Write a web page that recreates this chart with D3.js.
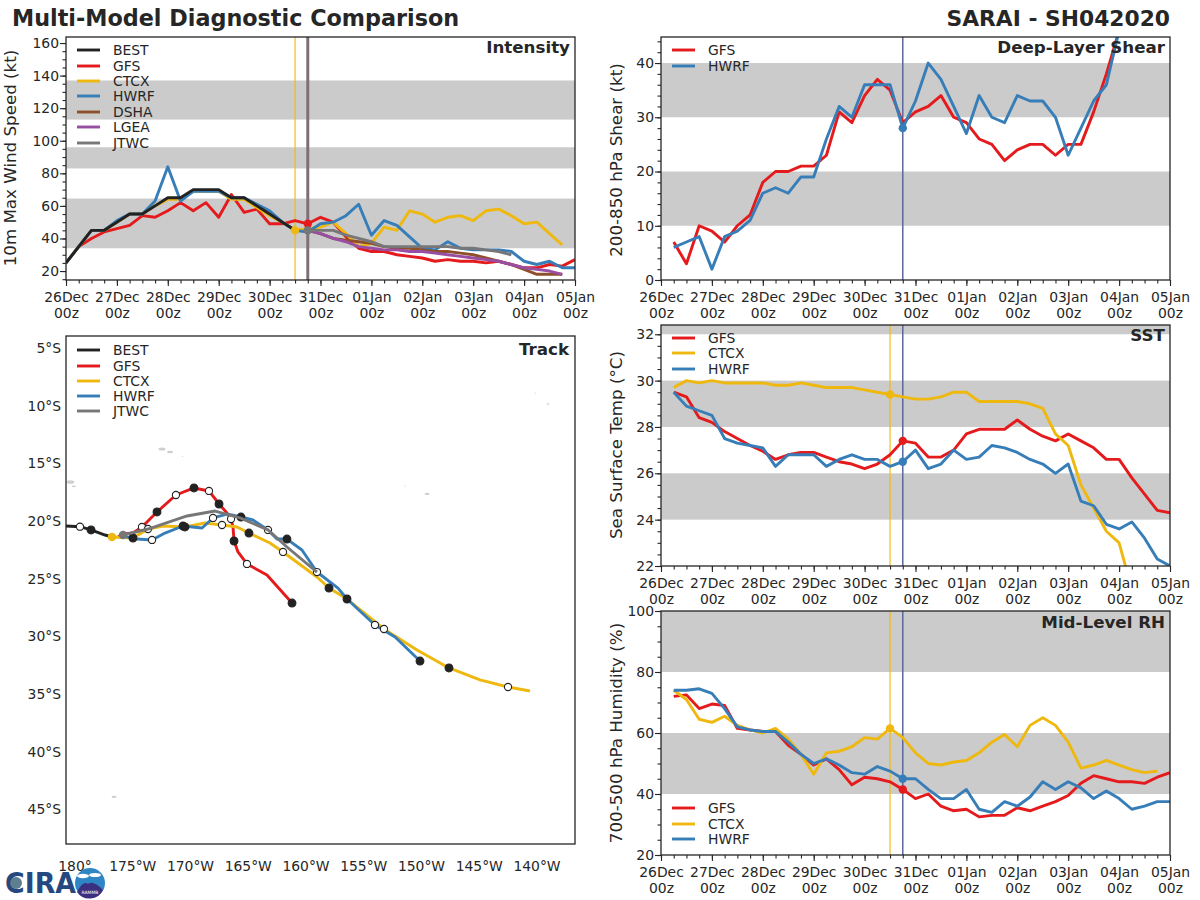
<!DOCTYPE html>
<html>
<head>
<meta charset="utf-8">
<script src="https://d3js.org/d3.v7.min.js"></script>
<style>
body { margin: 0; background: #fff; }
text { font-family: "DejaVu Sans", sans-serif; fill: #262626; }
</style>
</head>
<body>
<div id="chart"></div>
<script>
// 6-hourly steps from 26Dec 00z, every 4th step gets a label
var dayLabels = ["26Dec", "27Dec", "28Dec", "29Dec", "30Dec", "31Dec", "01Jan", "02Jan", "03Jan", "04Jan", "05Jan"];
var hourLabel = "00z";

var intensityBest = [25,35,45,45,50,55,55,60,65,65,70,70,70,65,65,60,55,50,45];
var intensityGfs = [25,35,40,44,46,48,54,53,57,62,57,62,53,67,56,58,49,49,51,49,53,50,41,34,32,32,30,29,28,26,27,26,26,25,26,24,22,22,24,23,27];
var intensityCtcx = [25,35,45,45,50,55,55,60,64,64,69,69,69,64,64,59,54,50,45,46,47,50,43,35,37,47,45,57,55,50,53,54,51,57,58,54,49,50,43,36];
var intensityHwrf = [25,35,45,45,51,55,55,63,84,63,69,69,69,65,65,61,57,50,45,44,49,50,54,61,42,51,48,41,34,33,38,34,33,33,33,32,26,24,26,22,22];
var intensityDsha = [45,43,40,39,38,37,35,34,34,33,32,32,31,30,28,26,24,21,18,18,18];
var intensityLgea = [45,43,40,38,35,34,33,33,32,32,31,30,29,28,27,26,24,22,21,20,18];
var intensityJtwc = [45,45,45,42,40,38,35,35,35,35,35,35,34,34,33,32,30];

var shearGfs = [7,3,10,9,7,10,12,18,20,20,21,21,23,31,29,34,37,35,29,31,32,34,30,29,26,25,22,24,25,25,23,25,25,31,38,46];
var shearHwrf = [6,7,8,2,8,9,11,16,17,16,19,19,26,32,30,36,36,36,28,33,40,37,32,27,34,30,29,34,33,33,30,23,28,33,36,46];

var sstGfs = [29.5,29.3,28.4,28.2,27.8,27.5,27.2,26.95,26.6,26.8,26.9,26.9,26.7,26.5,26.4,26.2,26.4,26.8,27.4,27.3,26.7,26.7,27.0,27.7,27.9,27.9,27.9,28.3,27.9,27.6,27.4,27.7,27.4,27.1,26.6,26.6,25.8,25.1,24.4,24.3];
var sstCtcx = [29.7,30.0,29.9,30.0,29.9,29.9,29.9,29.9,29.8,29.8,29.9,29.8,29.7,29.7,29.7,29.6,29.5,29.4,29.3,29.2,29.2,29.3,29.5,29.5,29.1,29.1,29.1,29.1,29.0,28.8,27.7,27.2,25.5,24.5,23.5,23.0,21.0];
var sstHwrf = [29.5,28.9,28.7,28.5,27.5,27.3,27.2,27.1,26.3,26.8,26.8,26.8,26.3,26.6,26.8,26.6,26.6,26.3,26.5,27.0,26.2,26.4,27.0,26.6,26.7,27.2,27.1,26.9,26.6,26.4,26.0,26.4,24.8,24.6,23.8,23.6,23.9,23.2,22.3,22.0];

var rhGfs = [72,72.5,68,69.5,69,61.5,61,60.5,60.5,56,53,49.5,51.5,48,43,45.5,45,44,41.5,38.5,40,36,34.5,35,32.5,33,33,35.5,34.5,36,37.5,39.5,43.5,46,45,44,44,43.5,45.5,47];
var rhCtcx = [74,71,64.5,63.5,65.5,62.5,61,60,61.5,58,53,46.5,53.5,54,55.5,58.5,58,61.5,58.5,53.5,50,49.5,50.5,51,53.5,57,59.5,55.5,62.5,65,62.5,57,48.5,49.5,51,49.5,48,47,47.5];
var rhHwrf = [74,74,74.5,73,68,62,61,60.5,60.5,57,53,50,51.5,49.5,47,46.5,49,47.5,45,45,41.5,38.5,38.5,41.5,35,34,37.5,36,39,44,41.5,44,42,38.5,41,38.5,35,36,37.5,37.5];

// track points: deg W, deg S, marker (0 none, 1 filled, 2 open)
var trackBest = [[180.78,20.44,0],[179.57,20.5,2],[178.61,20.78,1],[177.4,21.22,0],[176.8,21.39,0]];
var trackGfs = [[176.28,21.39,0],[175.84,21.13,0],[174.98,21.05,0],[174.2,20.52,2],[172.9,19.22,1],[171.26,17.75,2],[169.7,17.14,1],[168.4,17.4,2],[167.53,18.53,1],[166.84,19.31,0],[166.49,19.83,2],[166.32,20.52,0],[166.23,21.74,1],[165.89,22.69,0],[165.11,23.73,2],[163.38,24.69,0],[161.21,27.12,1]];
var trackCtcx = [[176.8,21.39,0],[174.98,21.48,1],[173.68,20.7,2],[172.38,20.44,0],[170.48,20.52,1],[168.74,20.18,0],[167.27,20.35,2],[165.97,20.52,0],[164.94,21.05,1],[163.12,21.91,0],[161.99,22.69,2],[159.05,24.86,0],[158.01,25.82,1],[156.45,26.77,0],[153.25,29.37,2],[150.39,31.19,0],[147.62,32.75,1],[144.94,33.79,0],[142.51,34.4,2],[140.61,34.75,0]];
var trackHwrf = [[175.84,21.31,0],[174.63,21.57,0],[173.33,21.65,2],[172.21,21.05,0],[170.65,20.44,1],[169.0,20.61,0],[168.05,19.74,2],[166.84,19.4,0],[165.63,19.66,1],[164.59,19.92,0],[163.29,20.78,2],[162.51,21.57,0],[161.65,21.57,1],[160.35,22.52,0],[159.05,24.43,2],[157.23,25.82,0],[156.45,26.77,1],[154.03,29.02,2],[152.29,30.07,0],[150.13,32.15,1]];
var trackJtwc = [[175.84,21.22,0],[173.68,20.7,0],[170.3,19.57,0],[167.88,19.14,0],[165.71,19.74,0],[163.29,20.78,0],[161.65,22.26,0],[159.05,24.43,0]];

// small islands on the track map: deg W, deg S, size
var islandLon = [172.47,171.77,170.7,180.4,180.1,151.43,149.52,140.17,139.05,176.62];
var islandLat = [13.76,14.02,14.4,16.62,17.0,16.97,17.66,8.9,9.86,43.94];
var islandSize = [3.5,3,1,4,2,1,2.5,1,1.5,2.5];

var lonTicks = [180,175,170,165,160,155,150,145,140];
var latTicks = [5,10,15,20,25,30,35,40,45];

var red = "#e41a1c", yellow = "#efb80f", blue = "#377eb8", brown = "#8f4f2a", purple = "#984ea3", grey = "#777777", black = "#222222";

var svg = d3.select("#chart").append("svg").attr("width", 1200).attr("height", 900);

svg.append("text").attr("x", 12).attr("y", 26).attr("font-size", 22.3).attr("font-weight", "bold").text("Multi-Model Diagnostic Comparison");
svg.append("text").attr("x", 1170).attr("y", 26).attr("text-anchor", "end").attr("font-size", 21.8).attr("font-weight", "bold").text("SARAI - SH042020");

var clipCount = 0;

function frameClip(x0, y0, w, h) {
    clipCount++;
    var id = "clip" + clipCount;
    svg.append("clipPath").attr("id", id).append("rect").attr("x", x0).attr("y", y0).attr("width", w).attr("height", h);
    return "url(#" + id + ")";
}

function timePanel(p) {
    var x = d3.scaleLinear().domain([0, 40]).range([p.left, p.left + 509]);
    var y = d3.scaleLinear().domain(p.yDomain).range([p.bottom, p.top]);
    var clip = frameClip(p.left, p.top, 509, p.bottom - p.top);

    var g = svg.append("g");
    var plot = g.append("g").attr("clip-path", clip);

    // intensity / threshold bands
    p.bands.forEach(function(b) {
        plot.append("rect")
            .attr("x", p.left).attr("width", 509)
            .attr("y", y(b[1])).attr("height", y(b[0]) - y(b[1]))
            .attr("fill", "#cbcbcb");
    });

    // analysis time lines
    p.vlines.forEach(function(v) {
        plot.append("line")
            .attr("x1", x(v[0])).attr("x2", x(v[0]))
            .attr("y1", p.top).attr("y2", p.bottom)
            .attr("stroke", v[1]).attr("stroke-width", v[2]);
    });

    var line = d3.line()
        .x(function(d) { return x(d.i); })
        .y(function(d) { return y(d.v); });

    p.series.forEach(function(s) {
        var pts = s.values.map(function(v, i) { return { i: i + s.start, v: v }; });
        plot.append("path").datum(pts)
            .attr("d", line)
            .attr("fill", "none")
            .attr("stroke", s.color)
            .attr("stroke-width", 2.9)
            .attr("stroke-linejoin", "round");
    });

    // dots at the analysis time of each model
    p.series.forEach(function(s) {
        if (s.dot === undefined) return;
        plot.append("circle")
            .attr("cx", x(s.dot))
            .attr("cy", y(s.values[s.dot - s.start]))
            .attr("r", 4.2)
            .attr("fill", s.color);
    });

    // axes
    var xAxis = d3.axisBottom(x)
        .tickValues(d3.range(0, 41, 4))
        .tickSize(6)
        .tickFormat(function(d) { return dayLabels[d / 4]; });
    var xg = g.append("g").attr("transform", "translate(0," + p.bottom + ")").call(xAxis);
    xg.selectAll("text").attr("font-size", 13.9).attr("y", 12.5).attr("dy", "0.71em")
        .each(function(d) {
            d3.select(this).append("tspan").attr("x", 0).attr("dy", "1.15em").text(hourLabel);
        });
    var xMinor = d3.axisBottom(x).tickValues(d3.range(0, 41)).tickSize(3.5).tickFormat("");
    g.append("g").attr("transform", "translate(0," + p.bottom + ")").call(xMinor);

    var yAxis = d3.axisLeft(y).tickValues(p.yTicks).tickSize(6);
    var yg = g.append("g").attr("transform", "translate(" + p.left + ",0)").call(yAxis);
    yg.selectAll("text").attr("font-size", 13.9).attr("x", -7);
    var yMinor = d3.axisLeft(y).tickValues(p.yMinor).tickSize(3.5).tickFormat("");
    g.append("g").attr("transform", "translate(" + p.left + ",0)").call(yMinor);

    g.selectAll(".domain").attr("stroke", "none");
    g.selectAll(".tick line").attr("stroke", "#262626").attr("stroke-width", 1.1);
    g.selectAll(".tick text").attr("fill", "#262626");

    frame(g, p.left, p.top, 509, p.bottom - p.top);
    panelTitle(g, p.left + 504, p.titleY, p.title);
    yLabel(g, p.labelX, p.labelY, p.yLabel);
    legend(g, p.left, p.legendRows, p.series, p.legendOrder);
}

function frame(g, x0, y0, w, h) {
    g.append("rect").attr("x", x0).attr("y", y0).attr("width", w).attr("height", h)
        .attr("fill", "none").attr("stroke", "#262626").attr("stroke-width", 1.3);
}

function panelTitle(g, xEnd, yPos, label) {
    g.append("text").attr("x", xEnd).attr("y", yPos).attr("text-anchor", "end")
        .attr("font-size", 16.7).attr("font-weight", "bold").text(label);
}

function yLabel(g, xPos, yPos, label) {
    g.append("text")
        .attr("transform", "translate(" + xPos + "," + yPos + ") rotate(-90)")
        .attr("text-anchor", "middle").attr("font-size", 16.7).text(label);
}

function legend(g, left, rows, series, order) {
    order.forEach(function(name, i) {
        var s = series.filter(function(d) { return d.name == name; })[0];
        g.append("line")
            .attr("x1", left + 11).attr("x2", left + 34)
            .attr("y1", rows[i]).attr("y2", rows[i])
            .attr("stroke", s.color).attr("stroke-width", 2.9);
        g.append("text").attr("x", left + 47).attr("y", rows[i] + 5)
            .attr("font-size", 13.9).text(name);
    });
}

timePanel({
    left: 66, top: 37, bottom: 280,
    yDomain: [14.5, 163.7],
    yTicks: d3.range(20, 161, 20), yMinor: d3.range(15, 161, 5),
    bands: [[34, 64.5], [83, 96], [113, 137]],
    vlines: [[18, yellow, 1.1], [19, "#7f6f78", 3]],
    series: [
        { name: "GFS", color: red, values: intensityGfs, start: 0, dot: 19 },
        { name: "CTCX", color: yellow, values: intensityCtcx, start: 0, dot: 18 },
        { name: "HWRF", color: blue, values: intensityHwrf, start: 0 },
        { name: "DSHA", color: brown, values: intensityDsha, start: 19 },
        { name: "LGEA", color: purple, values: intensityLgea, start: 19 },
        { name: "JTWC", color: grey, values: intensityJtwc, start: 19, dot: 19 },
        { name: "BEST", color: black, values: intensityBest, start: 0 }
    ],
    legendOrder: ["BEST", "GFS", "CTCX", "HWRF", "DSHA", "LGEA", "JTWC"],
    legendRows: [50, 66, 81, 96, 112, 127, 143],
    title: "Intensity", titleY: 53,
    yLabel: "10m Max Wind Speed (kt)", labelX: 16, labelY: 158
});

timePanel({
    left: 661, top: 37, bottom: 280,
    yDomain: [0, 44.8],
    yTicks: d3.range(0, 41, 10), yMinor: d3.range(0, 45, 2),
    bands: [[10, 20], [30, 40]],
    vlines: [[19, "#5b689f", 1.5]],
    series: [
        { name: "GFS", color: red, values: shearGfs, start: 1 },
        { name: "HWRF", color: blue, values: shearHwrf, start: 1, dot: 19 }
    ],
    legendOrder: ["GFS", "HWRF"],
    legendRows: [50, 66],
    title: "Deep-Layer Shear", titleY: 53,
    yLabel: "200-850 hPa Shear (kt)", labelX: 622, labelY: 160
});

timePanel({
    left: 661, top: 325, bottom: 566,
    yDomain: [22, 32.4],
    yTicks: d3.range(22, 33, 2), yMinor: d3.range(22, 32.5, 0.5),
    bands: [[24, 26], [28, 30], [32, 33]],
    vlines: [[18, yellow, 1.1], [19, "#5b689f", 1.5]],
    series: [
        { name: "GFS", color: red, values: sstGfs, start: 1, dot: 19 },
        { name: "CTCX", color: yellow, values: sstCtcx, start: 1, dot: 18 },
        { name: "HWRF", color: blue, values: sstHwrf, start: 1, dot: 19 }
    ],
    legendOrder: ["GFS", "CTCX", "HWRF"],
    legendRows: [338, 353, 369],
    title: "SST", titleY: 341,
    yLabel: "Sea Surface Temp (°C)", labelX: 622, labelY: 445
});

timePanel({
    left: 661, top: 611, bottom: 855,
    yDomain: [20, 100],
    yTicks: d3.range(20, 101, 20), yMinor: d3.range(20, 101, 5),
    bands: [[40, 60], [80, 100]],
    vlines: [[18, yellow, 1.1], [19, "#5b689f", 1.5]],
    series: [
        { name: "GFS", color: red, values: rhGfs, start: 1, dot: 19 },
        { name: "CTCX", color: yellow, values: rhCtcx, start: 1, dot: 18 },
        { name: "HWRF", color: blue, values: rhHwrf, start: 1, dot: 19 }
    ],
    legendOrder: ["GFS", "CTCX", "HWRF"],
    legendRows: [808, 824, 839],
    title: "Mid-Level RH", titleY: 628,
    yLabel: "700-500 hPa Humidity (%)", labelX: 622, labelY: 733
});

// track map
function trackPanel() {
    var left = 66, right = 575, top = 336, bottom = 844;
    var lon = d3.scaleLinear().domain([180, 140]).range([75, 537]);
    var lat = d3.scaleLinear().domain([5, 45]).range([348, 809.2]);
    var g = svg.append("g");
    var plot = g.append("g").attr("clip-path", frameClip(left, top, right - left, bottom - top));

    islandLon.forEach(function(d, i) {
        plot.append("ellipse")
            .attr("cx", lon(d)).attr("cy", lat(islandLat[i]))
            .attr("rx", islandSize[i]).attr("ry", islandSize[i] * 0.45)
            .attr("fill", "#cfcfcf");
    });

    var line = d3.line()
        .x(function(d) { return lon(d[0]); })
        .y(function(d) { return lat(d[1]); });

    var tracks = [
        { name: "BEST", color: black, pts: trackBest },
        { name: "GFS", color: red, pts: trackGfs },
        { name: "CTCX", color: yellow, pts: trackCtcx },
        { name: "HWRF", color: blue, pts: trackHwrf },
        { name: "JTWC", color: grey, pts: trackJtwc }
    ];

    function drawLine(t) {
        plot.append("path").datum(t.pts).attr("d", line)
            .attr("fill", "none").attr("stroke", t.color)
            .attr("stroke-width", 2.9).attr("stroke-linejoin", "round");
    }

    // JTWC goes over the markers, the other lines under them
    tracks.slice(0, 4).forEach(drawLine);
    tracks.slice(0, 4).forEach(function(t) {
        plot.selectAll(null).data(t.pts.filter(function(d) { return d[2] > 0; }))
            .enter().append("circle")
            .attr("cx", function(d) { return lon(d[0]); })
            .attr("cy", function(d) { return lat(d[1]); })
            .attr("r", function(d) { return d[2] == 1 ? 3.9 : 3.6; })
            .attr("fill", function(d) { return d[2] == 1 ? "#222222" : "#ffffff"; })
            .attr("stroke", "#222222").attr("stroke-width", 1.1);
    });
    drawLine(tracks[4]);

    // current position dots
    plot.append("circle").attr("cx", lon(trackCtcx[0][0])).attr("cy", lat(trackCtcx[0][1])).attr("r", 4.2).attr("fill", yellow);
    plot.append("circle").attr("cx", lon(trackJtwc[0][0])).attr("cy", lat(trackJtwc[0][1])).attr("r", 4.2).attr("fill", grey);

    lonTicks.forEach(function(d) {
        g.append("text").attr("x", lon(d)).attr("y", 871).attr("text-anchor", "middle")
            .attr("font-size", 13.9).text(d == 180 ? "180°" : d + "°W");
    });
    latTicks.forEach(function(d) {
        g.append("text").attr("x", 61).attr("y", lat(d) + 5).attr("text-anchor", "end")
            .attr("font-size", 13.9).text(d + "°S");
    });

    frame(g, left, top, right - left, bottom - top);
    panelTitle(g, right - 6, 355, "Track");
    legend(g, left, [350, 366, 381, 396, 411], tracks, ["BEST", "GFS", "CTCX", "HWRF", "JTWC"]);
}
trackPanel();

// logo in the bottom corner
var logo = svg.append("g");
logo.append("text").attr("x", 5).attr("y", 893).attr("font-size", 28).attr("font-weight", "bold")
    .attr("textLength", 71).attr("lengthAdjust", "spacingAndGlyphs").style("fill", "#24487f").text("CIRA");
logo.append("circle").attr("cx", 16).attr("cy", 883).attr("r", 6).attr("fill", "#5d7f8f");
logo.append("circle").attr("cx", 90).attr("cy", 883).attr("r", 15).attr("fill", "#2f86c5");
logo.append("ellipse").attr("cx", 83).attr("cy", 876).attr("rx", 6).attr("ry", 2.2).attr("fill", "#ffffff");
logo.append("ellipse").attr("cx", 95).attr("cy", 875).attr("rx", 6).attr("ry", 2).attr("fill", "#ffffff");
logo.append("path")
    .attr("d", "M77,892 Q83,880 88,884 Q93,880 103,890 A15,15 0 0 1 77,892 Z")
    .attr("fill", "#3b2f7f");
logo.append("text").attr("x", 90).attr("y", 894).attr("text-anchor", "middle").attr("font-size", 4.5)
    .style("fill", "#ffffff").text("RAMMB");
</script>
</body>
</html>
